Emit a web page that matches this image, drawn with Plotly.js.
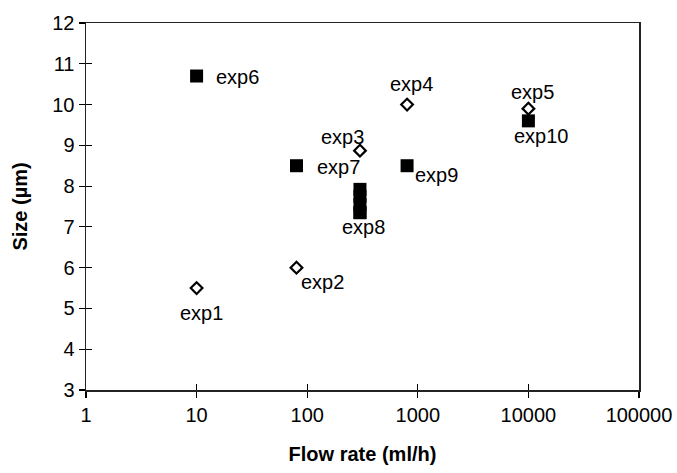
<!DOCTYPE html>
<html>
<head>
<meta charset="utf-8">
<script src="https://cdn.plot.ly/plotly-3.0.1.min.js"></script>
<style>html,body{margin:0;padding:0;background:#fff;}#chart{width:677px;height:473px;}</style>
</head>
<body>
<div id="chart"></div>
<script>
// ---- data ----
var openLabels = ['exp1', 'exp2', 'exp3', 'exp4', 'exp5'];
var openFlow   = [10, 80, 300, 800, 10000];
var openSize   = [5.5, 6.0, 8.87, 10.0, 9.9];

var filledLabels = ['exp6', 'exp7', 'exp8', 'exp9', 'exp10'];
var filledFlow   = [10, 80, 300, 800, 10000];
var filledSize   = [10.7, 8.5, 7.35, 8.5, 9.6];

// exp8 has several overlapping measurements at the same flow rate
var exp8Flow = [300, 300, 300, 300];
var exp8Size = [7.35, 7.55, 7.75, 7.92];

var xTickVals  = [1, 10, 100, 1000, 10000, 100000];
var xTickText  = ['1', '10', '100', '1000', '10000', '100000'];
var yTickVals  = [3, 4, 5, 6, 7, 8, 9, 10, 11, 12];

// ---- label placement (styles, in pixels) ----
var openOffsets = [
  {dx: 5,   dy: 25,  anchor: 'center'},
  {dx: 3,   dy: 14,  anchor: 'left'},
  {dx: -17, dy: -14, anchor: 'center'},
  {dx: 4,   dy: -21, anchor: 'center'},
  {dx: 4,   dy: -17, anchor: 'center'}
];
var filledOffsets = [
  {dx: 17, dy: 1,  anchor: 'left'},
  {dx: 19, dy: 1,  anchor: 'left'},
  {dx: 4,  dy: 14, anchor: 'center'},
  {dx: 6,  dy: 9,  anchor: 'left'},
  {dx: 13, dy: 15, anchor: 'center'}
];

var FONT = 'Liberation Sans, Arial, Helvetica, sans-serif';

var traces = [
  {
    x: openFlow, y: openSize, type: 'scatter', mode: 'markers',
    marker: {symbol: 'diamond-open', size: 9, color: '#000', line: {width: 2.2, color: '#000'}},
    hoverinfo: 'skip'
  },
  {
    x: filledFlow, y: filledSize, type: 'scatter', mode: 'markers',
    marker: {symbol: 'square', size: 13, color: '#000'},
    hoverinfo: 'skip'
  },
  {
    x: exp8Flow, y: exp8Size, type: 'scatter', mode: 'markers',
    marker: {symbol: 'square', size: 13, color: '#000'},
    hoverinfo: 'skip'
  },
  {x: [], y: [], xaxis: 'x2', yaxis: 'y2', type: 'scatter', mode: 'markers', hoverinfo: 'skip'}
];

var annotations = [];
function addLabels(labels, xs, ys, offs) {
  for (var i = 0; i < labels.length; i++) {
    annotations.push({
      x: Math.log10(xs[i]), y: ys[i], xref: 'x', yref: 'y',
      text: labels[i], showarrow: false,
      xanchor: offs[i].anchor, yanchor: 'middle',
      xshift: offs[i].dx, yshift: -offs[i].dy,
      font: {family: FONT, size: 20, color: '#000'}
    });
  }
}
addLabels(openLabels, openFlow, openSize, openOffsets);
addLabels(filledLabels, filledFlow, filledSize, filledOffsets);

var axisCommon = {
  showgrid: false, zeroline: false,
  showline: true, linecolor: '#222', linewidth: 1.5,
  ticks: 'outside', ticklen: 6, tickwidth: 1.2, tickcolor: '#000',
  tickfont: {family: FONT, size: 20, color: '#000'}
};

var layout = {
  width: 677, height: 473,
  margin: {l: 86, r: 38, t: 23, b: 83},
  paper_bgcolor: '#fff', plot_bgcolor: '#fff',
  showlegend: false,
  xaxis: Object.assign({}, axisCommon, {
    type: 'log', range: [0, 5], tickvals: xTickVals, ticktext: xTickText,
    mirror: true,
    title: {text: '<b>Flow rate (ml/h)</b>', font: {family: FONT, size: 20, color: '#000'}, standoff: 22}
  }),
  yaxis: Object.assign({}, axisCommon, {
    range: [3, 12], tickvals: yTickVals,
    mirror: true,
    title: {text: '<b>Size (µm)</b>', font: {family: FONT, size: 20, color: '#000'}, standoff: 19}
  }),
  xaxis2: {
    type: 'log', range: [0, 5], tickvals: xTickVals, overlaying: 'x', anchor: 'y2', side: 'bottom',
    showgrid: false, zeroline: false, showline: false, showticklabels: false,
    ticks: 'inside', ticklen: 6, tickwidth: 1.2, tickcolor: '#000'
  },
  yaxis2: {
    range: [3, 12], tickvals: yTickVals, overlaying: 'y', anchor: 'x2', side: 'left',
    showgrid: false, zeroline: false, showline: false, showticklabels: false,
    ticks: 'inside', ticklen: 6, tickwidth: 1.2, tickcolor: '#000'
  },
  annotations: annotations
};

Plotly.newPlot('chart', traces, layout, {displayModeBar: false, staticPlot: true});
</script>
</body>
</html>
